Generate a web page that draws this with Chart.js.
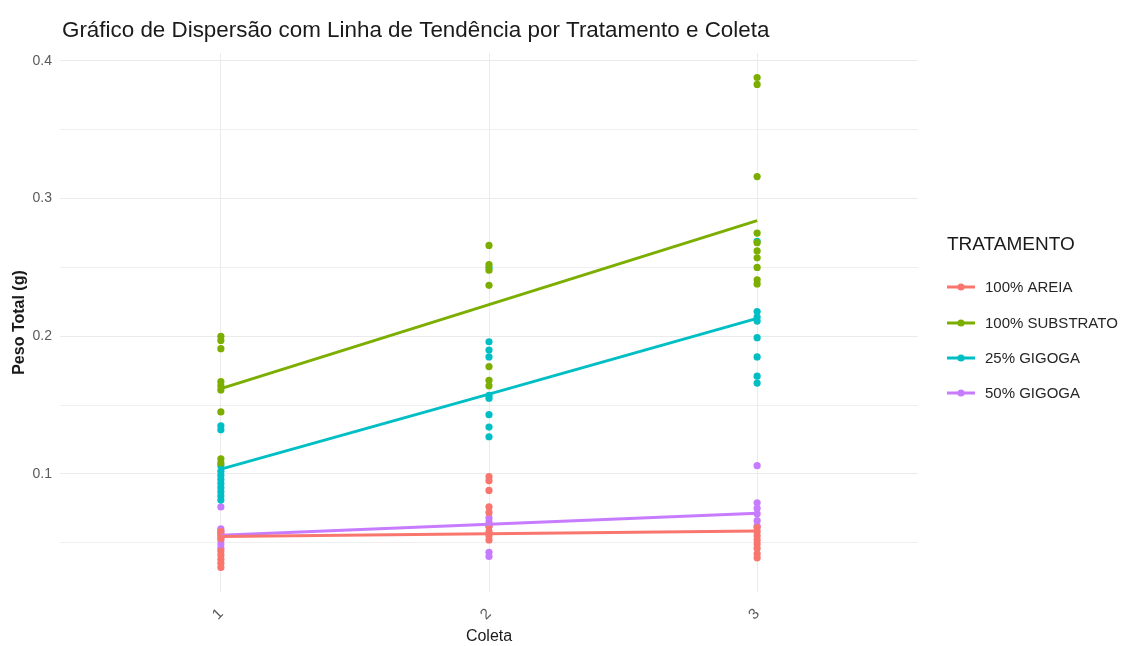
<!DOCTYPE html>
<html lang="pt-BR">
<head>
<meta charset="UTF-8">
<title>Peso Total por Coleta</title>
<script src="https://cdn.jsdelivr.net/npm/chart.js"></script>
<style>
    body {
        margin: 0;
        background: #ffffff;
    }
    canvas {
        display: block;
    }
</style>
</head>
<body>
<canvas id="grafico" width="1124" height="646"></canvas>
<script>
// Coletas e rótulos do eixo x
const coletas = [1, 2, 3];
const coletaLabels = ['1', '2', '3'];

// Marcas do eixo y (principais com rótulo, secundárias só com grade)
const yMajor = [0.1, 0.2, 0.3, 0.4];
const yMinor = [0.05, 0.15, 0.25, 0.35];

const tratamentos = ['100% AREIA', '100% SUBSTRATO', '25% GIGOGA', '50% GIGOGA'];
const cores = ['#F8766D', '#7CAE00', '#00BFC4', '#C77CFF'];

// Peso total (g) por tratamento e coleta
const areiaC1 = [0.058, 0.056, 0.053, 0.044, 0.041, 0.038, 0.035, 0.032];
const areiaC2 = [0.098, 0.095, 0.088, 0.076, 0.072, 0.062, 0.058, 0.055, 0.052];
const areiaC3 = [0.061, 0.058, 0.055, 0.052, 0.049, 0.046, 0.042, 0.039];

const substratoC1 = [0.200, 0.197, 0.191, 0.167, 0.164, 0.161, 0.145, 0.111, 0.108];
const substratoC2 = [0.266, 0.252, 0.248, 0.237, 0.178, 0.168, 0.164];
const substratoC3 = [0.388, 0.383, 0.316, 0.275, 0.268, 0.262, 0.257, 0.250, 0.241, 0.238];

const gigoga25C1 = [0.135, 0.132, 0.106, 0.102, 0.099, 0.096, 0.093, 0.090, 0.087, 0.084, 0.081];
const gigoga25C2 = [0.250, 0.196, 0.190, 0.185, 0.157, 0.155, 0.143, 0.134, 0.127];
const gigoga25C3 = [0.269, 0.218, 0.214, 0.211, 0.199, 0.185, 0.171, 0.166];

const gigoga50C1 = [0.076, 0.060, 0.058, 0.055, 0.052, 0.049, 0.046];
const gigoga50C2 = [0.068, 0.065, 0.062, 0.043, 0.040];
const gigoga50C3 = [0.106, 0.079, 0.075, 0.071, 0.066, 0.062];

// Linha de tendência (valor ajustado em cada coleta)
const areiaTrend = [0.0545, 0.0565, 0.0585];
const substratoTrend = [0.162, 0.223, 0.284];
const gigoga25Trend = [0.1035, 0.158, 0.213];
const gigoga50Trend = [0.0555, 0.0635, 0.0715];

const pontos = [
    [areiaC1, areiaC2, areiaC3],
    [substratoC1, substratoC2, substratoC3],
    [gigoga25C1, gigoga25C2, gigoga25C3],
    [gigoga50C1, gigoga50C2, gigoga50C3]
];
const tendencias = [areiaTrend, substratoTrend, gigoga25Trend, gigoga50Trend];

const FONT = '"Liberation Sans", Arial, sans-serif';

// monta pares {x, y} a partir das listas de cada coleta
function toXY(porColeta) {
    const out = [];
    porColeta.forEach((vals, i) => {
        vals.forEach(v => out.push({ x: coletas[i], y: v }));
    });
    return out;
}

// linhas primeiro para ficarem por cima dos pontos
const datasets = [];
tratamentos.forEach((nome, i) => {
    datasets.push({
        label: nome + ' (tendência)',
        data: tendencias[i].map((v, k) => ({ x: coletas[k], y: v })),
        showLine: true,
        borderColor: cores[i],
        borderWidth: 3,
        pointRadius: 0,
        fill: false
    });
});
tratamentos.forEach((nome, i) => {
    datasets.push({
        label: nome,
        data: toXY(pontos[i]),
        backgroundColor: cores[i],
        borderColor: cores[i],
        borderWidth: 0,
        pointRadius: 3.6,
        pointHoverRadius: 3.6
    });
});

// título e legenda desenhados à parte
const extras = {
    id: 'extras',
    afterDraw(chart) {
        const ctx = chart.ctx;
        ctx.save();
        ctx.fillStyle = '#1a1a1a';
        ctx.font = '22.4px ' + FONT;
        ctx.textBaseline = 'middle';
        ctx.textAlign = 'left';
        ctx.fillText('Gráfico de Dispersão com Linha de Tendência por Tratamento e Coleta', 62, 31);

        const lx = 947;
        ctx.font = '19px ' + FONT;
        ctx.fillText('TRATAMENTO', lx, 245);

        const rows = [287, 323, 358, 393];
        tratamentos.forEach((nome, i) => {
            const y = rows[i];
            ctx.strokeStyle = cores[i];
            ctx.lineWidth = 3;
            ctx.beginPath();
            ctx.moveTo(lx, y);
            ctx.lineTo(lx + 28, y);
            ctx.stroke();
            ctx.fillStyle = cores[i];
            ctx.beginPath();
            ctx.arc(lx + 14, y, 3.6, 0, Math.PI * 2);
            ctx.fill();
            ctx.fillStyle = '#262626';
            ctx.font = '15px ' + FONT;
            ctx.fillText(nome, lx + 38, y + 1);
        });
        ctx.restore();
    }
};

new Chart(document.getElementById('grafico'), {
    type: 'scatter',
    data: { datasets: datasets },
    options: {
        responsive: false,
        animation: false,
        devicePixelRatio: 1,
        layout: {
            padding: { top: 53, right: 206, bottom: 0, left: 0 }
        },
        plugins: {
            legend: { display: false },
            title: { display: false },
            tooltip: { enabled: false }
        },
        scales: {
            x: {
                type: 'linear',
                min: 0.4,
                max: 3.6,
                afterBuildTicks(scale) {
                    scale.ticks = coletas.map(v => ({ value: v }));
                },
                afterFit(scale) {
                    scale.height = 54;
                },
                ticks: {
                    autoSkip: false,
                    minRotation: 45,
                    maxRotation: 45,
                    padding: 13,
                    color: '#5a5a5a',
                    font: { family: FONT, size: 15 },
                    callback: v => coletaLabels[coletas.indexOf(v)]
                },
                grid: {
                    color: '#ebebeb',
                    lineWidth: 1,
                    drawTicks: false
                },
                border: { display: false },
                title: {
                    display: true,
                    text: 'Coleta',
                    color: '#1a1a1a',
                    font: { family: FONT, size: 16 },
                    padding: { top: 0, bottom: 0 }
                }
            },
            y: {
                min: 0.0142,
                max: 0.4058,
                afterBuildTicks(scale) {
                    scale.ticks = yMinor.concat(yMajor)
                        .sort((a, b) => a - b)
                        .map(v => ({ value: v }));
                },
                afterFit(scale) {
                    scale.width = 60;
                },
                ticks: {
                    autoSkip: false,
                    padding: 8,
                    color: '#5a5a5a',
                    font: { family: FONT, size: 14 },
                    callback: v => yMajor.includes(v) ? v.toFixed(1) : ''
                },
                grid: {
                    color: '#ebebeb',
                    lineWidth: c => (c.tick && yMajor.includes(c.tick.value)) ? 1.1 : 0.8,
                    drawTicks: false
                },
                border: { display: false },
                title: {
                    display: true,
                    text: 'Peso Total (g)',
                    color: '#1a1a1a',
                    font: { family: FONT, size: 16, weight: 'bold' },
                    padding: { top: 10, bottom: 0 }
                }
            }
        }
    },
    plugins: [extras]
});
</script>
</body>
</html>
